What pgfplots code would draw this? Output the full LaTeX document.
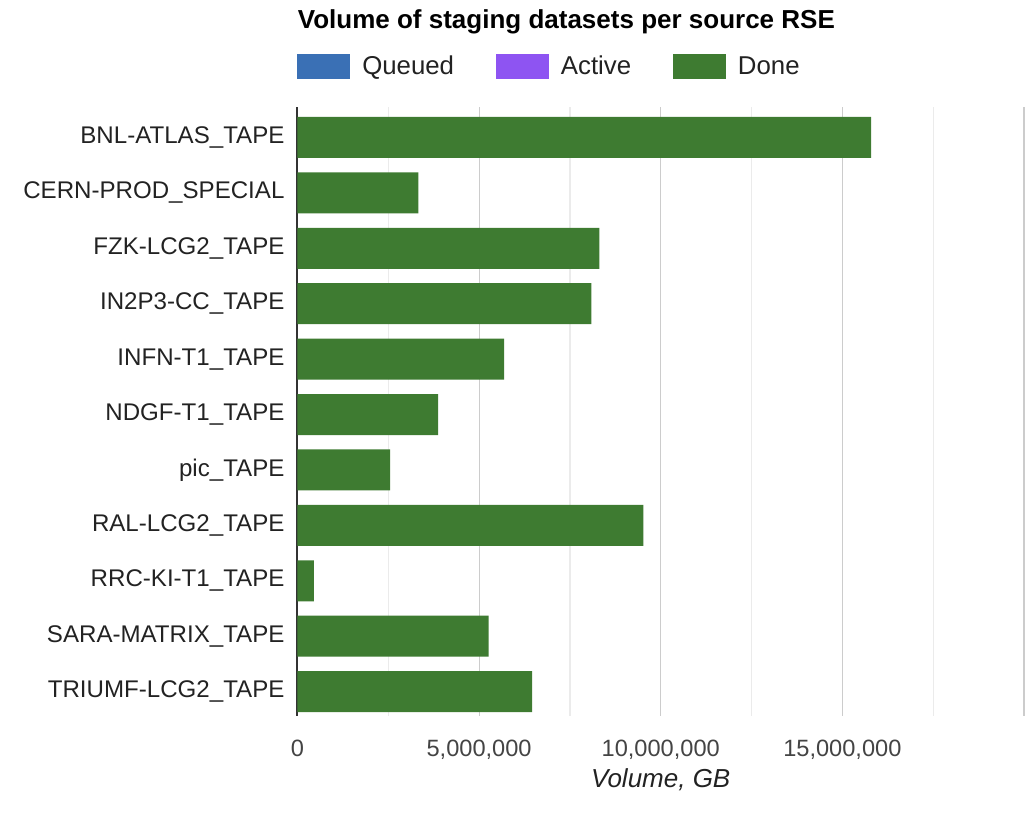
\documentclass[border=0pt]{standalone}
\usepackage{pgfplots}
\pgfplotsset{compat=1.18}
\usepackage{pgfplotstable}
\usepackage{fontspec}
\setmainfont{Liberation Sans}
\definecolor{donegreen}{HTML}{3E7B31}
\definecolor{queuedblue}{HTML}{3A70B5}
\definecolor{activepurple}{HTML}{8E54F2}
\definecolor{majgrid}{HTML}{CCCCCC}
\definecolor{mingrid}{HTML}{EBEBEB}
\definecolor{axgray}{HTML}{333333}
\definecolor{labgray}{HTML}{222222}
\definecolor{tickgray}{HTML}{444444}

\pgfplotstableread{
y x
0 15790000
1 3330000
2 8310000
3 8090000
4 5690000
5 3870000
6 2550000
7 9520000
8 450000
9 5260000
10 6460000
}\donedata

\begin{document}
\begin{tikzpicture}
\useasboundingbox (0,0) rectangle (515pt,408pt);
\node[anchor=west, inner sep=0pt, font=\fontsize{13}{15}\selectfont\bfseries] at (148.75pt,397pt) {Volume of staging datasets per source RSE};
\begin{axis}[
  at={(148.75pt,50pt)}, anchor=south west,
  scale only axis,
  width=363.25pt, height=304.5pt,
  xmin=0, xmax=20000000,
  ymin=-0.55, ymax=10.44,
  y dir=reverse,
  axis lines*=left,
  x axis line style={draw=none},
  y axis line style={draw=axgray, line width=1pt},
  scaled x ticks=false,
  xtick={0,5000000,10000000,15000000,20000000},
  xticklabels={0,{5,000,000},{10,000,000},{15,000,000},{}},
  minor xtick={2500000,7500000,12500000,17500000},
  xmajorgrids, xminorgrids,
  major grid style={draw=majgrid, line width=0.6pt},
  minor grid style={draw=mingrid, line width=0.6pt},
  ytick={0,1,2,3,4,5,6,7,8,9,10},
  yticklabels={BNL-ATLAS\_TAPE,CERN-PROD\_SPECIAL,FZK-LCG2\_TAPE,IN2P3-CC\_TAPE,INFN-T1\_TAPE,NDGF-T1\_TAPE,pic\_TAPE,RAL-LCG2\_TAPE,RRC-KI-T1\_TAPE,SARA-MATRIX\_TAPE,TRIUMF-LCG2\_TAPE},
  major tick length=0pt, minor tick length=0pt,
  /pgf/number format/assume math mode=true,
  xticklabel style={font=\fontsize{11.8}{14}\selectfont, text=tickgray, yshift=-1.5pt},
  yticklabel style={font=\fontsize{12.05}{14}\selectfont, text=labgray},
  xticklabel shift=7pt,
  yticklabel shift=3pt,
  xlabel={\itshape Volume, GB},
  xlabel style={font=\fontsize{13}{15}\selectfont, text=labgray, at={(axis description cs:0.5,-0.104)}, anchor=center},
  legend style={at={(axis description cs:0,1.066)}, anchor=west, draw=none, fill=none, inner sep=0pt, outer sep=0pt,
    font=\fontsize{12.9}{15}\selectfont, text=labgray,
    nodes={inner sep=0pt},
    /tikz/every odd column/.append style={column sep=6pt},
    /tikz/every even column/.append style={column sep=21pt}},
  legend columns=3,
  legend cell align=left,
]
\addplot[xbar, bar width=20.5pt, fill=donegreen, draw=none, forget plot] table[x=x, y=y] {\donedata};
\addlegendimage{legend image code/.code={\fill[queuedblue] (0pt,-6pt) rectangle (26pt,6pt);}}
\addlegendentry{Queued}
\addlegendimage{legend image code/.code={\fill[activepurple] (0pt,-6pt) rectangle (26pt,6pt);}}
\addlegendentry{Active}
\addlegendimage{legend image code/.code={\fill[donegreen] (0pt,-6pt) rectangle (26pt,6pt);}}
\addlegendentry{Done}
\end{axis}
\end{tikzpicture}
\end{document}
